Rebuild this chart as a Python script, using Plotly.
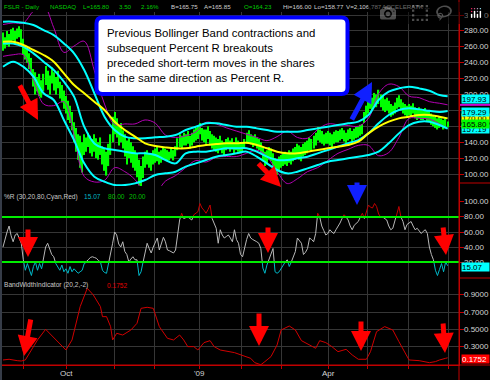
import plotly.graph_objects as go

W, H = 490, 380

# ---------------- data ----------------
days = list(range(220))
highs = [
    278, 272, 280, 276, 282, 284, 280, 283, 286, 282, 270, 262, 258, 252, 246, 232, 228, 222, 226, 218,
    226, 236, 230, 224, 234, 228, 222, 230, 216, 212, 205, 198, 192, 186, 178, 165, 158, 150, 148, 140,
    150, 146, 152, 148, 144, 150, 145, 140, 146, 135, 132, 128, 138, 150, 172, 178, 170, 160, 164, 155,
    150, 142, 145, 140, 135, 130, 126, 118, 110, 122, 128, 130, 126, 124, 130, 132, 134, 128, 130, 134,
    132, 130, 128, 133, 130, 135, 145, 150, 148, 152, 150, 154, 148, 152, 156, 158, 160, 164, 158, 156,
    156, 160, 154, 150, 148, 146, 144, 148, 142, 140, 144, 146, 142, 145, 140, 146, 142, 138, 140, 144,
    152, 155, 150, 148, 150, 146, 144, 140, 134, 128, 130, 134, 132, 126, 120, 118, 122, 124, 126, 128,
    126, 130, 128, 132, 134, 138, 136, 134, 138, 140, 142, 146, 144, 148, 152, 159, 156, 154, 150, 152,
    154, 152, 150, 153, 155, 154, 156, 158, 155, 152, 156, 158, 154, 157, 159, 160, 162, 163, 178, 186,
    192, 198, 196, 202, 200, 206, 200, 198, 194, 196, 192, 188, 186, 190, 196, 199, 194, 190, 188, 186,
    188, 186, 189, 184, 182, 184, 182, 180, 183, 180, 180, 176, 174, 172, 170, 172, 170, 168, 170, 166]
lows = [
    255, 258, 262, 260, 266, 268, 266, 270, 272, 262, 250, 244, 240, 232, 226, 210, 200, 204, 198, 196,
    204, 212, 206, 200, 214, 205, 200, 208, 195, 190, 182, 176, 168, 164, 155, 140, 128, 118, 108, 102,
    124, 128, 134, 126, 122, 128, 120, 118, 124, 112, 104, 98, 110, 124, 140, 150, 146, 136, 140, 132,
    122, 112, 120, 114, 108, 104, 96, 86, 85, 95, 108, 112, 108, 104, 112, 114, 116, 112, 114, 118,
    118, 116, 117, 120, 117, 122, 130, 134, 132, 136, 136, 138, 132, 136, 140, 142, 144, 150, 142, 140,
    138, 144, 136, 132, 130, 128, 126, 130, 126, 124, 130, 132, 128, 131, 126, 130, 128, 126, 128, 132,
    138, 140, 137, 134, 136, 132, 130, 126, 116, 110, 112, 118, 116, 108, 102, 99, 104, 108, 110, 112,
    110, 114, 112, 116, 118, 120, 118, 116, 122, 124, 126, 130, 128, 132, 136, 142, 140, 138, 136, 138,
    138, 136, 134, 138, 140, 140, 142, 144, 141, 139, 142, 144, 141, 143, 145, 146, 148, 150, 164, 172,
    176, 182, 180, 186, 184, 188, 184, 180, 178, 180, 176, 172, 174, 176, 182, 184, 180, 176, 174, 172,
    174, 172, 176, 170, 168, 170, 168, 168, 170, 166, 166, 162, 160, 158, 156, 158, 160, 156, 158, 158.77]

knots = list(range(0, 216, 5)) + [219]
cyan_upper = [291.6, 291.6, 290.3, 287.4, 281.1, 274.8, 264.3, 251.8, 230.8, 201.5, 172.1, 155.3, 147, 144.9, 144.9,
              146.1, 147, 149, 155.3, 159.5, 163.7, 163.7, 161.6, 159.5, 159.5, 157.4, 155.3, 153.2, 153.2, 153.2,
              155.3, 157.4, 159.5, 161.6, 163.7, 165.8, 174.2, 193.1, 203.6, 207.7, 209.8, 207.7, 204.8, 199.4, 197.93]
cyan_mid = [264.3, 264.3, 260.2, 251.8, 241.3, 230.8, 216.1, 197.3, 159.5, 138.5, 132.3, 130.2, 128.1, 126, 126,
            123.9, 117.6, 113.4, 126, 128.1, 128.1, 130.2, 132.3, 132.3, 132.3, 128.1, 121.8, 117.6, 117.6, 119.7,
            121.8, 126, 130.2, 134.4, 138.6, 142.7, 151.1, 163.7, 174.2, 180.5, 182.6, 181.3, 179.5, 178, 179.29]
cyan_lower = [235, 241.3, 235, 222.4, 201.5, 193.1, 167.9, 142.6, 113.4, 96.6, 90.3, 86.1, 86.1, 88.2, 92.4,
              98.7, 100.8, 102.9, 109.2, 113.4, 117.6, 121.8, 123.9, 126, 128.1, 121.8, 113.4, 105, 100.8, 102.9,
              107.1, 111.3, 115.5, 117.6, 119.7, 121.8, 123.9, 128.1, 138.6, 151.1, 161.6, 165.8, 165.8, 161.6, 157.19]
yellow_ma = [266.4, 266.4, 262.3, 256, 249.7, 241.3, 226.6, 211.9, 201.5, 191, 180.5, 165.8, 155.3, 147, 138.6,
             135.2, 133.5, 132.3, 132.3, 134.4, 136.5, 137.7, 138.6, 138.6, 139.4, 136.5, 132.3, 128.1, 126, 126,
             128.1, 130.2, 132.3, 134.4, 136.5, 140.7, 151.1, 159.5, 165.8, 170, 172.1, 174.2, 174.2, 172.1, 170]
bb_upper = [288, 290, 290, 305, 312, 284, 253, 261, 267, 230, 188, 162, 163, 163, 168, 164, 149, 146, 148, 153,
            165, 163, 158, 154, 150, 146, 142, 147, 154, 146, 145, 156, 163, 162, 161, 160, 170, 201, 213, 210,
            198, 196, 191, 189, 187]
bb_lower = [248, 250, 250, 219, 188, 186, 191, 149, 97, 90, 92, 108, 103, 93, 76, 76, 91, 98, 108, 117,
            115, 121, 122, 122, 126, 130, 122, 103, 88, 94, 103, 108, 117, 126, 131, 136, 136, 123, 127, 146,
            170, 170, 169, 163, 157]

pct_r = [
    40, 52, 60, 68, 55, 47, 56, 58, 52, 45, 23, 9, 18, 11, 2, 14, 20, 9, 18, 11,
    25, 40, 45, 36, 30, 27, 18, 14, 9, 16, 7, 11, 5, 14, 7, 11, 8, 5, 7, 9,
    18, 20, 23, 26, 27, 26, 25, 22, 20, 9, 6, 5, 18, 29, 45, 60, 56, 44, 40, 47,
    34, 30, 20, 24, 27, 23, 23, 2, 7, 20, 32, 45, 38, 32, 40, 45, 52, 36, 44, 53,
    47, 36, 35, 34, 32, 36, 55, 76, 85, 78, 79, 80, 78, 76, 83, 85, 87, 98, 92, 89,
    85, 90, 96, 78, 70, 65, 45, 63, 56, 52, 54, 56, 52, 47, 63, 50, 45, 30, 27, 40,
    50, 58, 52, 50, 49, 47, 45, 38, 12, 5, 16, 24, 29, 38, 7, 5, 7, 12, 16, 20,
    23, 14, 20, 27, 34, 52, 48, 45, 30, 33, 38, 52, 50, 47, 58, 85, 80, 68, 62, 56,
    58, 63, 60, 58, 63, 67, 72, 78, 83, 80, 76, 68, 63, 69, 72, 74, 80, 85, 78, 87,
    96, 93, 92, 98, 94, 84, 80, 80, 78, 76, 68, 63, 65, 74, 83, 94, 80, 74, 63, 70,
    72, 74, 68, 63, 65, 62, 58, 61, 63, 58, 40, 30, 23, 9, 2, 10, 18, 7, 20, 15.07]

bw_day = [0, 3, 7, 9, 11, 13, 17, 21, 23, 26, 29, 31, 34, 38, 41.5, 44.5, 48, 49, 51, 53,
          54, 56, 59, 63, 66, 68, 71, 74, 77, 81, 84, 87, 89, 91, 94, 96, 99, 102, 104, 107,
          114, 119, 122, 124, 127, 129, 132, 135, 137, 141, 144, 147, 150, 154, 156, 159, 162, 165, 169, 172,
          175, 179, 181, 184, 188, 192, 195, 198, 200, 205, 210, 213, 215, 218, 219]
bw_val = [0.150, 0.158, 0.142, 0.138, 0.150, 0.227, 0.381, 0.504, 0.458, 0.381, 0.312, 0.265, 0.381, 0.765, 0.977,
          0.900, 0.765, 0.650, 0.650, 0.535, 0.381, 0.458, 0.438, 0.496, 0.573, 0.746, 0.758, 0.746, 0.535, 0.400,
          0.381, 0.438, 0.381, 0.304, 0.304, 0.265, 0.350, 0.373, 0.304, 0.265, 0.235, 0.195, 0.169, 0.119, 0.095,
          0.131, 0.189, 0.323, 0.496, 0.542, 0.496, 0.373, 0.335, 0.285, 0.373, 0.350, 0.304, 0.246, 0.273, 0.208,
          0.158, 0.158, 0.246, 0.477, 0.535, 0.496, 0.362, 0.227, 0.150, 0.142, 0.119, 0.131, 0.150, 0.169, 0.1752]

month_pos = [9.9, 31.5, 54.7, 74.4, 97.0, 117.7, 137.0, 160.1, 179.3, 199.5, 219.2]
month_lbl = ["", "Oct", "", "", "'09", "", "", "Apr", "", "", ""]
price_ticks = [100, 120, 140, 160, 180, 200, 220, 240, 260, 280, 300]
price_tick_shown = [100, 120, 140, 200, 220, 240, 260, 280, 300]
pr_ticks = [20, 40, 60, 80, 100]
bw_ticks = [0.3, 0.5, 0.7, 0.9]
pr_levels = [20, 80]
last_close, last_pr, last_bw = 165.80, 15.07, 0.1752

# ---------------- geometry ----------------
XL, XR = 2, 459
X_RANGE = [-0.49, 224.6]
P_TOP, P_BOT = 12, 186
R_TOP, R_BOT = 186, 278
B_TOP, B_BOT = 278, 365
PRICE_RANGE = [84.9, 303.8]
PR_RANGE = [-1.3, 121.3]
BW_RANGE = [0.092, 1.096]

FONT = "Liberation Sans, Arial, sans-serif"
GRID = "#363636"
AXRED = "#c00000"
LBL = "#d4d4d4"


def fx(px):
    return px / W


def fy(py):
    return 1 - py / H


def dom(top, bot):
    return [fy(bot), fy(top)]


def v2py(v, rng, top, bot):
    return bot - (v - rng[0]) / (rng[1] - rng[0]) * (bot - top)


y20 = v2py(20, PR_RANGE, R_TOP, R_BOT)
y80 = v2py(80, PR_RANGE, R_TOP, R_BOT)

fig = go.Figure()

# price bars
fig.add_trace(go.Bar(x=days, y=[h - l for h, l in zip(highs, lows)], base=lows,
                     marker=dict(color="#00ff00", line=dict(width=0)), width=0.6,
                     xaxis="x", yaxis="y"))
for vals, col, wd in [(bb_upper, "#b400b4", 1), (bb_lower, "#b400b4", 1),
                      (cyan_upper, "#00ffff", 2), (cyan_mid, "#00ffff", 2), (cyan_lower, "#00ffff", 2),
                      (yellow_ma, "#ffff00", 2)]:
    fig.add_trace(go.Scatter(x=knots, y=vals, mode="lines", line=dict(color=col, width=wd, shape="spline"),
                             xaxis="x", yaxis="y"))

# %R (grey, with cyan below 20 and red above 80 via clipped sub-axes)
fig.add_trace(go.Scatter(x=days, y=pct_r, mode="lines", line=dict(color="#b8b8b8", width=1),
                         xaxis="x2", yaxis="y2"))
fig.add_trace(go.Scatter(x=days, y=pct_r, mode="lines", line=dict(color="#00b8c8", width=1),
                         xaxis="x2", yaxis="y4"))
fig.add_trace(go.Scatter(x=days, y=pct_r, mode="lines", line=dict(color="#c00000", width=1),
                         xaxis="x2", yaxis="y5"))
# bandwidth
fig.add_trace(go.Scatter(x=bw_day, y=bw_val, mode="lines", line=dict(color="#d00000", width=1),
                         xaxis="x3", yaxis="y3"))

xcommon = dict(range=X_RANGE, domain=[fx(XL), fx(XR)], showgrid=True, gridcolor=GRID, gridwidth=1,
               tickmode="array", tickvals=month_pos, zeroline=False, showticklabels=False,
               showline=False, fixedrange=True)
ycommon = dict(side="right", showgrid=True, gridcolor=GRID, zeroline=False, showline=True,
               linecolor=AXRED, linewidth=1, ticks="outside", ticklen=4, tickcolor=AXRED,
               showticklabels=False, fixedrange=True)

fig.update_layout(
    width=W, height=H, margin=dict(l=0, r=0, t=0, b=0),
    paper_bgcolor="black", plot_bgcolor="black", showlegend=False,
    font=dict(family=FONT, size=8, color=LBL),
    xaxis=dict(xcommon, anchor="y"),
    xaxis2=dict(xcommon, anchor="y2"),
    xaxis3=dict(xcommon, anchor="y3", ticks="outside", ticklen=3, tickcolor=AXRED,
                showline=True, linecolor=AXRED, linewidth=1),
    yaxis=dict(ycommon, anchor="x", domain=dom(P_TOP, P_BOT), range=PRICE_RANGE, tickmode="array",
               tickvals=price_ticks),
    yaxis2=dict(ycommon, anchor="x2", domain=dom(R_TOP, R_BOT), range=PR_RANGE, tickmode="array",
                tickvals=pr_ticks),
    yaxis3=dict(ycommon, anchor="x3", domain=dom(B_TOP, B_BOT), range=BW_RANGE, tickmode="array",
                tickvals=bw_ticks),
    yaxis4=dict(anchor="x2", domain=dom(y20, R_BOT), range=[PR_RANGE[0], 20], visible=False, fixedrange=True),
    yaxis5=dict(anchor="x2", domain=dom(R_TOP, y80), range=[80, PR_RANGE[1]], visible=False, fixedrange=True),
)

shapes = []
for lv in pr_levels:
    shapes.append(dict(type="line", xref="paper", yref="y2", x0=fx(XL), x1=fx(XR), y0=lv, y1=lv,
                       line=dict(color="#00ee00", width=2)))
shapes.append(dict(type="line", xref="paper", yref="paper", x0=fx(XR), x1=fx(XR), y0=0, y1=1,
                   line=dict(color=AXRED, width=1)))
for py in [R_TOP - 3, R_BOT]:
    shapes.append(dict(type="line", xref="paper", yref="paper", x0=fx(XR), x1=1, y0=fy(py), y1=fy(py),
                       line=dict(color=AXRED, width=1)))
shapes.append(dict(type="line", xref="paper", yref="paper", x0=fx(XL), x1=1, y0=fy(B_BOT), y1=fy(B_BOT),
                   line=dict(color=AXRED, width=1)))
shapes.append(dict(type="line", xref="paper", yref="paper", x0=fx(1), x1=fx(1), y0=0, y1=1,
                   line=dict(color="#6c7890", width=1)))
shapes.append(dict(type="line", xref="paper", yref="y", x0=fx(XR + 1), x1=1, y0=bb_upper[-1], y1=bb_upper[-1],
                   line=dict(color="#d000d0", width=2)))

# callout box with rounded corners
bx0, by0, bx1, by1, r = 96.5, 17.5, 347.5, 94, 6


def P(x, y):
    return "%.5f,%.5f" % (fx(x), fy(y))


path = ("M" + P(bx0 + r, by0) + " L" + P(bx1 - r, by0) + " Q" + P(bx1, by0) + " " + P(bx1, by0 + r) +
        " L" + P(bx1, by1 - r) + " Q" + P(bx1, by1) + " " + P(bx1 - r, by1) +
        " L" + P(bx0 + r, by1) + " Q" + P(bx0, by1) + " " + P(bx0, by1 - r) +
        " L" + P(bx0, by0 + r) + " Q" + P(bx0, by0) + " " + P(bx0 + r, by0) + " Z")
shapes.append(dict(type="path", xref="paper", yref="paper", path=path, fillcolor="white",
                   line=dict(color="#0000ff", width=4), layer="above"))
fig.update_layout(shapes=shapes)

ann = []


def text(px, py, s, color, size=6.6, anchor="left", family=FONT):
    ann.append(dict(x=fx(px), y=fy(py), xref="paper", yref="paper", text=s, showarrow=False,
                    xanchor=anchor, yanchor="middle", borderpad=0,
                    font=dict(family=family, size=size, color=color)))


GREEN_T = "#00cc00"
SILVER = "#cfcfcf"
header = [(3, "FSLR - Daily", GREEN_T), (49, "NASDAQ", GREEN_T), (82, "L=165.80", GREEN_T),
          (118, "3.50", GREEN_T), (140, "2.16%", GREEN_T), (170, "B=165.75", SILVER),
          (203, "A=165.85", SILVER), (243, "O=164.23", GREEN_T), (282, "Hi=166.00", SILVER),
          (313, "Lo=158.77", SILVER), (345, "V=2,106,787", SILVER), (381, "ACCELERATK ...", SILVER)]
for px, s, c in header:
    text(px, 6, s, c, size=6.2)

text(3, 197, "%R (30,20,80,Cyan,Red)", "#c8c8c8")
text(83, 197, "15.07", "#00b8c0")
text(107, 197, "80.00", "#00c000")
text(128, 197, "20.00", "#00c000")
text(3, 285, "BandWidthIndicator (20,2,-2)", "#c8c8c8")
text(106, 285, "0.1752", "#e00000")

box_lines = ["Previous Bollinger Band contractions and", "subsequent Percent R breakouts",
             "preceded short-term moves in the shares", "in the same direction as Percent R."]
for k, s in enumerate(box_lines):
    text(106, 33 + 15 * k, s, "black", size=11.4)

# month labels under the bottom axis
for p, s in zip(month_pos, month_lbl):
    if s:
        ann.append(dict(x=p, y=fy(373), xref="x3", yref="paper", text=s, showarrow=False,
                        xanchor="center", yanchor="middle", borderpad=0,
                        font=dict(family=FONT, size=8, color=LBL)))

# right-hand tick labels
for yref, ticks, fmt in [("y", price_tick_shown, "%.2f"), ("y2", pr_ticks, "%.2f"), ("y3", bw_ticks, "%.4f")]:
    for v in ticks:
        ann.append(dict(x=fx(463), y=v, xref="paper", yref=yref, text=fmt % v, showarrow=False,
                        xanchor="left", yanchor="middle", borderpad=0,
                        font=dict(family=FONT, size=8, color=LBL)))


def valbox(v, yref, s, bg, fg="black", yshift=0):
    ann.append(dict(x=fx(461), y=v, xref="paper", yref=yref, text=s, showarrow=False,
                    xanchor="left", yanchor="middle", bgcolor=bg, width=27, height=8, borderpad=0,
                    align="left", yshift=yshift, font=dict(family=FONT, size=8, color=fg)))


valbox(cyan_lower[-1], "y", "%.2f" % cyan_lower[-1], "#00ffff", yshift=0)
valbox(yellow_ma[-1], "y", "%.2f" % yellow_ma[-1], "#ffff00", yshift=0)
valbox(cyan_upper[-1], "y", "%.2f" % cyan_upper[-1], "#00ffff", yshift=-3)
valbox(cyan_mid[-1], "y", "%.2f" % cyan_mid[-1], "#00ffff", yshift=-1.5)
valbox(last_close, "y", "%.2f" % last_close, "#00ff00", yshift=-2)
valbox(last_pr, "y2", "%.2f" % last_pr, "#00ffff", yshift=-1)
valbox(last_bw, "y3", "%.4f" % last_bw, "#ff0000", fg="white", yshift=-1)


def arrow(tail, tip, color):
    ann.append(dict(x=fx(tip[0]), y=fy(tip[1]), xref="paper", yref="paper", ax=tail[0] - tip[0],
                    ay=tail[1] - tip[1], axref="pixel", ayref="pixel", text="", showarrow=True,
                    arrowhead=2, arrowsize=0.8, arrowwidth=5, arrowcolor=color, standoff=0))


RED, BLUE = "#ff0000", "#1020ff"
arrow((19, 84), (38, 120), RED)
arrow((257, 162), (281, 187), RED)
arrow((351, 121), (372, 82), BLUE)
arrow((28, 228), (28, 257), RED)
arrow((268, 226), (268, 253), RED)
arrow((357, 181), (357, 205), BLUE)
arrow((443, 226), (446, 255), RED)
arrow((31, 318), (24, 356), RED)
arrow((259, 312), (259, 346), RED)
arrow((361, 320), (361, 351), RED)
arrow((443, 322), (445, 353), RED)

fig.update_layout(annotations=ann)
fig.write_html("out.html", post_script="document.body.style.margin='0px';")
